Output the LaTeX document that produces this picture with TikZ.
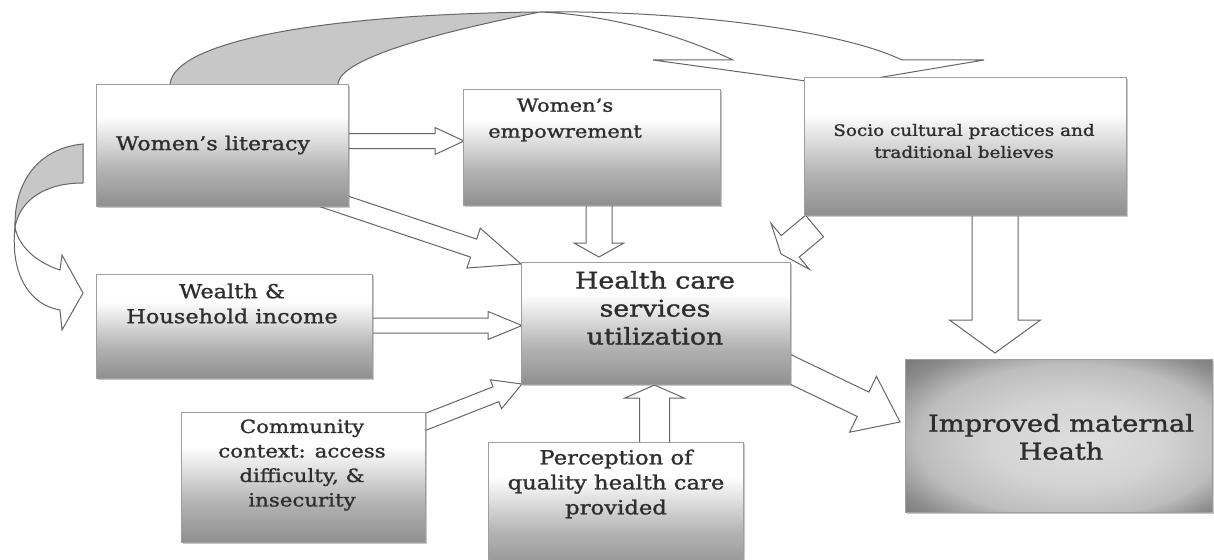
\documentclass[tikz,border=0pt]{standalone}
\usepackage{fontspec}
\setmainfont{DejaVu Serif}[FakeStretch=1.17,FakeBold=1.3]
\usetikzlibrary{calc,shadows}
\pgfdeclarelayer{background}
\pgfsetlayers{background,main}
\pgfdeclareverticalshading{boxsh}{100bp}{color(0bp)=(black!46); color(25bp)=(black!44); color(40bp)=(black!30); color(62bp)=(white); color(100bp)=(white)}
\pgfdeclareradialshading{imprad}{\pgfpoint{4bp}{-3bp}}{color(0bp)=(black!13); color(14bp)=(black!17); color(25bp)=(black!26); color(32bp)=(black!45); color(40bp)=(black!58); color(50bp)=(black!60)}
\tikzset{
  box/.style={draw=black!38, line width=0.8pt, shading=boxsh, anchor=north west, inner sep=0pt,
    drop shadow={shadow xshift=1.5pt, shadow yshift=-1.5pt, opacity=0.35, fill=black!60}},
  txt/.style={text=black!82, align=center, inner sep=0pt},
  barrowst/.style={draw=black!60, line width=1pt, fill=white, line join=miter},
  ribbon/.style={draw=black!60, line width=1pt, fill=black!22},
  ribbonw/.style={draw=black!60, line width=1pt, fill=white},
}
\newcommand\myblockarrow[5]{%
  \path ($(#2)!#5pt!(#1)$) coordinate (bah);
  \draw[barrowst] ($(#1)!#3pt!90:(#2)$) -- ($(bah)!#3pt!90:(#2)$) -- ($(bah)!#4pt!90:(#2)$) -- (#2)
    -- ($(bah)!#4pt!-90:(#2)$) -- ($(bah)!#3pt!-90:(#2)$) -- ($(#1)!#3pt!-90:(#2)$) -- cycle;}
\begin{document}
\begin{tikzpicture}[x=1pt,y=-1pt]
\useasboundingbox (0,0) rectangle (1214,559);
% boxes
\node[box, minimum width=252pt, minimum height=122pt] (lit) at (96,84) {};
\node[box, minimum width=257pt, minimum height=116pt] (emp) at (463,89) {};
\node[box, minimum width=322pt, minimum height=138pt] (soc) at (804,77) {};
\node[box, minimum width=269pt, minimum height=122pt] (hcs) at (521,262) {};
\node[box, minimum width=276pt, minimum height=104pt] (wea) at (96,274) {};
\node[box, minimum width=244pt, minimum height=130pt] (com) at (181,412) {};
\node[box, minimum width=255pt, minimum height=130pt] (per) at (488,442) {};
\node[box, shading=imprad, minimum width=307pt, minimum height=153pt] (imp) at (905,359) {};
% texts
\node[txt, font=\fontsize{19}{22}\selectfont] (litT) at (213,145) {Women's literacy};
\node[txt, font=\fontsize{18}{26}\selectfont] (empT) at (565,120) {Women's\\empowrement};
\node[txt, font=\fontsize{15.7}{22}\selectfont] (socT) at (964,141) {Socio cultural practices and\\traditional believes};
\node[txt, font=\fontsize{22.9}{28}\selectfont] (hcsT) at (655,308) {Health care\\services\\utilization};
\node[txt, font=\fontsize{19.2}{25}\selectfont] (weaT) at (232,303.5) {Wealth \&\\Household income};
\node[txt, font=\fontsize{18.2}{24.5}\selectfont] (comT) at (302,465) {Community\\context: access\\difficulty, \&\\insecurity};
\node[txt, font=\fontsize{19.4}{25}\selectfont] (perT) at (616,484) {Perception of\\quality health care\\provided};
\node[txt, font=\fontsize{23.3}{28}\selectfont] (impT) at (1061,437) {Improved maternal\\Heath};
% arrow end points
\coordinate (a1s) at (340,141);   \coordinate (a1e) at (464,141);
\coordinate (a2s) at (318,196);   \coordinate (a2e) at (521,264);
\coordinate (a3s) at (599,200);   \coordinate (a3e) at (599,257);
\coordinate (a4s) at (814.5,226); \coordinate (a4e) at (781,254);
\coordinate (a5s) at (995,210);   \coordinate (a5e) at (995,353);
\coordinate (a6s) at (365,325.5); \coordinate (a6e) at (522,325.5);
\coordinate (a7s) at (415,426);   \coordinate (a7e) at (522,384);
\coordinate (a8s) at (654.5,447); \coordinate (a8e) at (654.5,385);
\coordinate (a9s) at (775,362);   \coordinate (a9e) at (900,422);
\begin{pgfonlayer}{background}
\fill[white] (0,0) rectangle (1214,559);
% top curved ribbon
\draw[ribbon] (170,90) -- (170,84) .. controls (175,40) and (330,14) .. (540,12)
  .. controls (440,32) and (340,58) .. (338,84) -- (338,90) -- cycle;
\draw[ribbonw] (540,12) .. controls (680,10) and (840,30) .. (902,60) -- (984,60) -- (835,85)
  -- (653,60) -- (733,60) .. controls (680,35) and (610,15) .. (540,12) -- cycle;
% left curved ribbon
\draw[ribbon] (83,144) .. controls (40,148) and (14,180) .. (15,227)
  .. controls (20,200) and (45,183) .. (83,183) -- cycle;
\draw[ribbonw] (15,227) .. controls (10,275) and (30,305) .. (60,310) -- (62,330) -- (83,293)
  -- (62,255) -- (60,270) .. controls (35,262) and (18,245) .. (15,227) -- cycle;
% block arrows
\myblockarrow{a1s}{a1e}{7.5}{13.5}{29}
\myblockarrow{a2s}{a2e}{9.5}{21}{50}
\myblockarrow{a3s}{a3e}{13}{25}{14}
\myblockarrow{a4s}{a4e}{14}{30}{12}
\myblockarrow{a5s}{a5e}{23}{45.5}{33}
\myblockarrow{a6s}{a6e}{7.5}{14}{34}
\myblockarrow{a7s}{a7e}{8}{15.5}{28}
\myblockarrow{a8s}{a8e}{15}{29.5}{13}
\myblockarrow{a9s}{a9e}{13.5}{31}{41}
\end{pgfonlayer}
\end{tikzpicture}
\end{document}
